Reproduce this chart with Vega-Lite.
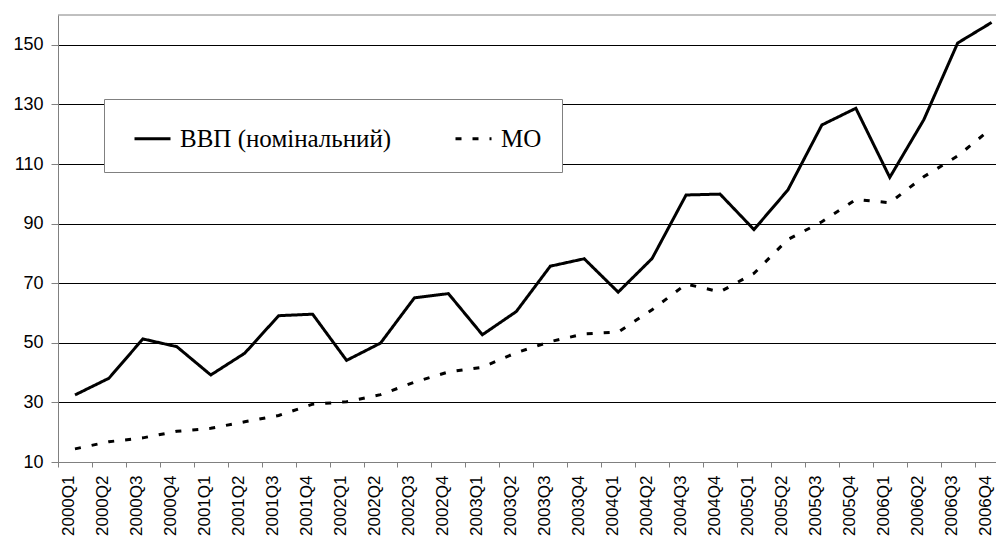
{
  "$schema": "https://vega.github.io/schema/vega-lite/v6.json",
  "autosize": {"type": "none"},
  "width": 938,
  "height": 447,
  "padding": {"left": 58, "top": 15, "right": 0, "bottom": 77},
  "background": "white",
  "config": {"view": {"stroke": null}, "font": "Liberation Sans"},
  "datasets": {
    "series": [
      {"quarter": "2000Q1", "series": "ВВП (номінальний)", "value": 32.5},
      {"quarter": "2000Q2", "series": "ВВП (номінальний)", "value": 38.1},
      {"quarter": "2000Q3", "series": "ВВП (номінальний)", "value": 51.3},
      {"quarter": "2000Q4", "series": "ВВП (номінальний)", "value": 48.7},
      {"quarter": "2001Q1", "series": "ВВП (номінальний)", "value": 39.2},
      {"quarter": "2001Q2", "series": "ВВП (номінальний)", "value": 46.5},
      {"quarter": "2001Q3", "series": "ВВП (номінальний)", "value": 59.1},
      {"quarter": "2001Q4", "series": "ВВП (номінальний)", "value": 59.6},
      {"quarter": "2002Q1", "series": "ВВП (номінальний)", "value": 44.1},
      {"quarter": "2002Q2", "series": "ВВП (номінальний)", "value": 49.9},
      {"quarter": "2002Q3", "series": "ВВП (номінальний)", "value": 65.1},
      {"quarter": "2002Q4", "series": "ВВП (номінальний)", "value": 66.5},
      {"quarter": "2003Q1", "series": "ВВП (номінальний)", "value": 52.7},
      {"quarter": "2003Q2", "series": "ВВП (номінальний)", "value": 60.5},
      {"quarter": "2003Q3", "series": "ВВП (номінальний)", "value": 75.7},
      {"quarter": "2003Q4", "series": "ВВП (номінальний)", "value": 78.2},
      {"quarter": "2004Q1", "series": "ВВП (номінальний)", "value": 67.0},
      {"quarter": "2004Q2", "series": "ВВП (номінальний)", "value": 78.3},
      {"quarter": "2004Q3", "series": "ВВП (номінальний)", "value": 99.6},
      {"quarter": "2004Q4", "series": "ВВП (номінальний)", "value": 99.9},
      {"quarter": "2005Q1", "series": "ВВП (номінальний)", "value": 88.0},
      {"quarter": "2005Q2", "series": "ВВП (номінальний)", "value": 101.3},
      {"quarter": "2005Q3", "series": "ВВП (номінальний)", "value": 123.1},
      {"quarter": "2005Q4", "series": "ВВП (номінальний)", "value": 128.7},
      {"quarter": "2006Q1", "series": "ВВП (номінальний)", "value": 105.5},
      {"quarter": "2006Q2", "series": "ВВП (номінальний)", "value": 124.8},
      {"quarter": "2006Q3", "series": "ВВП (номінальний)", "value": 150.6},
      {"quarter": "2006Q4", "series": "ВВП (номінальний)", "value": 157.5},
      {"quarter": "2000Q1", "series": "МО", "value": 14.4},
      {"quarter": "2000Q2", "series": "МО", "value": 16.8},
      {"quarter": "2000Q3", "series": "МО", "value": 18.1},
      {"quarter": "2000Q4", "series": "МО", "value": 20.3},
      {"quarter": "2001Q1", "series": "МО", "value": 21.3},
      {"quarter": "2001Q2", "series": "МО", "value": 23.5},
      {"quarter": "2001Q3", "series": "МО", "value": 25.6},
      {"quarter": "2001Q4", "series": "МО", "value": 29.4},
      {"quarter": "2002Q1", "series": "МО", "value": 30.2},
      {"quarter": "2002Q2", "series": "МО", "value": 32.6},
      {"quarter": "2002Q3", "series": "МО", "value": 36.8},
      {"quarter": "2002Q4", "series": "МО", "value": 40.2},
      {"quarter": "2003Q1", "series": "МО", "value": 41.8},
      {"quarter": "2003Q2", "series": "МО", "value": 46.7},
      {"quarter": "2003Q3", "series": "МО", "value": 50.4},
      {"quarter": "2003Q4", "series": "МО", "value": 53.0},
      {"quarter": "2004Q1", "series": "МО", "value": 53.6},
      {"quarter": "2004Q2", "series": "МО", "value": 61.1},
      {"quarter": "2004Q3", "series": "МО", "value": 69.7},
      {"quarter": "2004Q4", "series": "МО", "value": 67.1},
      {"quarter": "2005Q1", "series": "МО", "value": 73.3},
      {"quarter": "2005Q2", "series": "МО", "value": 84.7},
      {"quarter": "2005Q3", "series": "МО", "value": 90.6},
      {"quarter": "2005Q4", "series": "МО", "value": 98.1},
      {"quarter": "2006Q1", "series": "МО", "value": 97.0},
      {"quarter": "2006Q2", "series": "МО", "value": 105.7},
      {"quarter": "2006Q3", "series": "МО", "value": 112.7},
      {"quarter": "2006Q4", "series": "МО", "value": 122.0}
    ],
    "frame": [{"edge": "top"}]
  },
  "layer": [
    {
      "data": {"name": "series"},
      "mark": {"type": "line", "strokeWidth": 3, "color": "black"},
      "encoding": {
        "x": {
          "field": "quarter",
          "type": "ordinal",
          "sort": null,
          "bandPosition": 0.5,
          "scale": {"type": "band", "range": [0, 950.6], "paddingInner": 0, "paddingOuter": 0},
          "axis": {
            "title": null,
            "grid": false,
            "tickBand": "extent",
            "domainColor": "#808080",
            "tickColor": "#808080",
            "tickSize": 5,
            "labelAngle": 270,
            "labelFont": "Liberation Sans",
            "labelFontSize": 17,
            "labelColor": "black",
            "labelPadding": 8,
            "labelOffset": -6
          }
        },
        "y": {
          "field": "value",
          "type": "quantitative",
          "scale": {"domain": [10, 160], "nice": false, "zero": false},
          "axis": {
            "title": null,
            "values": [10, 30, 50, 70, 90, 110, 130, 150],
            "grid": true,
            "gridColor": {"condition": {"test": "datum.value == 10", "value": "#808080"}, "value": "black"},
            "domainColor": "#808080",
            "tickColor": "#808080",
            "tickSize": 7,
            "labelPadding": 8,
            "labelFont": "Liberation Sans",
            "labelFontSize": 18,
            "labelColor": "black"
          }
        },
        "strokeDash": {
          "field": "series",
          "type": "nominal",
          "scale": {"domain": ["ВВП (номінальний)", "МО"], "range": [[1, 0], [6, 11]]},
          "legend": {
            "orient": "none",
            "legendX": 46,
            "legendY": 84,
            "direction": "horizontal",
            "title": null,
            "symbolType": "stroke",
            "symbolSize": 1296,
            "symbolStrokeWidth": 3,
            "symbolStrokeColor": "black",
            "symbolOffset": 9,
            "labelFont": "Liberation Serif",
            "labelFontSize": 25,
            "labelColor": "black",
            "labelLimit": 400,
            "labelOffset": 8,
            "columnPadding": 53,
            "padding": 20,
            "fillColor": "white",
            "strokeColor": "#808080"
          }
        }
      }
    },
    {
      "data": {"name": "frame"},
      "mark": {"type": "rule", "color": "#808080", "strokeWidth": 1},
      "encoding": {"y": {"datum": 160, "type": "quantitative"}}
    }
  ]
}
